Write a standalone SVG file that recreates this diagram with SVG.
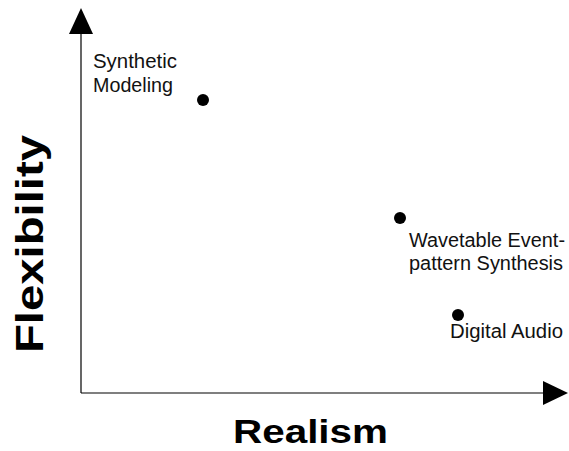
<svg xmlns="http://www.w3.org/2000/svg" width="569" height="451" viewBox="0 0 569 451">
  <style>
    .axis { stroke: #000; stroke-width: 1.2; fill: none; }
    .head { fill: #000; }
    .dot { fill: #000; }
    .lbl { font-family: "Liberation Sans", Arial, sans-serif; font-size: 19.5px; fill: #111; }
    .title { font-family: "Liberation Sans", Arial, sans-serif; font-weight: bold; fill: #000; }
  </style>
  <g id="connectors">
    <line class="axis" x1="81" y1="33" x2="81" y2="393"/>
    <polygon class="head" points="81,8 69,34 93,34"/>
    <line class="axis" x1="81" y1="393" x2="545" y2="393"/>
    <polygon class="head" points="568,393 543,381 543,405"/>
  </g>
  <g id="synthetic-modeling">
    <circle class="dot" cx="203" cy="100" r="6"/>
    <text class="lbl" x="93" y="68" textLength="84" lengthAdjust="spacingAndGlyphs">Synthetic</text>
    <text class="lbl" x="93" y="92" textLength="80" lengthAdjust="spacingAndGlyphs">Modeling</text>
  </g>
  <g id="wavetable">
    <circle class="dot" cx="400" cy="218" r="6"/>
    <text class="lbl" x="409" y="247" textLength="156" lengthAdjust="spacingAndGlyphs">Wavetable Event-</text>
    <text class="lbl" x="409" y="270" textLength="154" lengthAdjust="spacingAndGlyphs">pattern Synthesis</text>
  </g>
  <g id="digital-audio">
    <circle class="dot" cx="458" cy="315" r="6"/>
    <text class="lbl" x="450" y="338" textLength="113" lengthAdjust="spacingAndGlyphs">Digital Audio</text>
  </g>
  <g id="axis-labels">
    <text class="title" x="233" y="443" font-size="33" textLength="155" lengthAdjust="spacingAndGlyphs">Realism</text>
    <text class="title" transform="translate(43,353) rotate(-90)" font-size="39" textLength="218" lengthAdjust="spacingAndGlyphs">Flexibility</text>
  </g>
</svg>
